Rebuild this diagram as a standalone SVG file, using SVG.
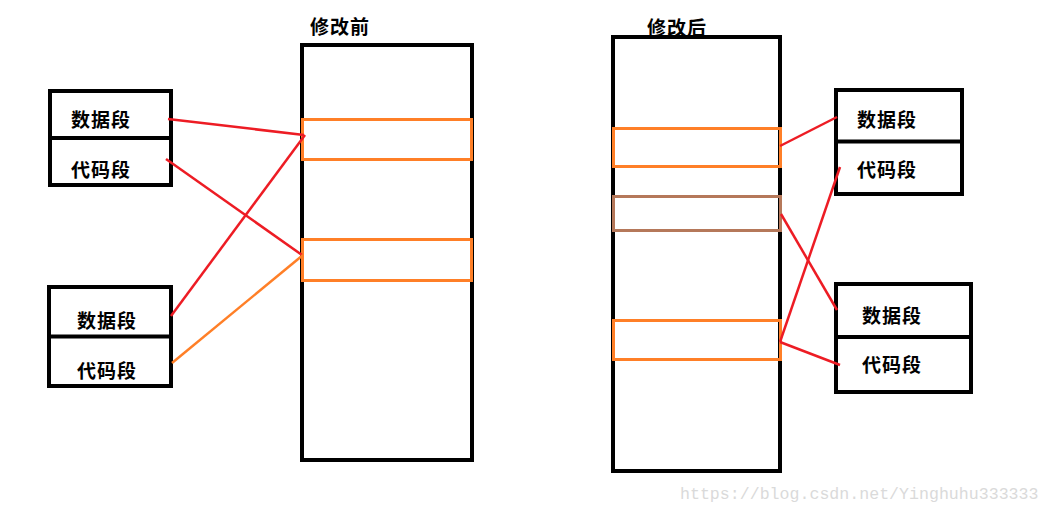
<svg xmlns="http://www.w3.org/2000/svg" width="1051" height="515" viewBox="0 0 1051 515">
<style>
.box{fill:none;stroke:#000;stroke-width:4}
.seg{fill:none;stroke:#FF7F27;stroke-width:3}
.brown{fill:none;stroke:#B5785A;stroke-width:3}
.lbl{font-family:"Noto Sans CJK SC","Noto Sans CJK JP",sans-serif;font-size:19px;font-weight:bold;fill:#000;letter-spacing:1px}
.red{stroke:#ED1C24;stroke-width:2.5;fill:none}
.org{stroke:#FF7F27;stroke-width:2.5;fill:none}
.wm{font-family:"Liberation Mono",monospace;font-size:16.6px;fill:#DADADA}
</style>
<rect width="1051" height="515" fill="#fff"/>
<g id="mem-before">
<rect class="box" x="302" y="45" width="170" height="415"/>
<rect class="seg" x="302.5" y="119.5" width="169" height="40"/>
<rect class="seg" x="302.5" y="239.5" width="169" height="41"/>
<text class="lbl" x="310" y="34">修改前</text>
</g>
<g id="mem-after">
<rect class="box" x="613" y="37" width="167" height="434"/>
<rect class="seg" x="613.5" y="128.5" width="167" height="38"/>
<rect class="brown" x="613.5" y="196.5" width="167" height="34"/>
<rect class="seg" x="613.5" y="320.5" width="167" height="39"/>
<text class="lbl" x="647" y="35">修改后</text>
</g>
<g id="prog-left-1">
<rect class="box" x="50" y="91" width="121" height="94"/>
<line x1="50" y1="138" x2="171" y2="138" stroke="#000" stroke-width="4"/>
<text class="lbl" x="71" y="127">数据段</text>
<text class="lbl" x="71" y="177">代码段</text>
</g>
<g id="prog-left-2">
<rect class="box" x="49" y="287" width="122" height="99"/>
<line x1="49" y1="336.5" x2="171" y2="336.5" stroke="#000" stroke-width="4"/>
<text class="lbl" x="77" y="328">数据段</text>
<text class="lbl" x="77" y="378">代码段</text>
</g>
<g id="prog-right-1">
<rect class="box" x="836" y="90" width="126" height="104"/>
<line x1="836" y1="141.5" x2="962" y2="141.5" stroke="#000" stroke-width="4"/>
<text class="lbl" x="857" y="127">数据段</text>
<text class="lbl" x="857" y="177">代码段</text>
</g>
<g id="prog-right-2">
<rect class="box" x="836" y="284" width="135" height="108"/>
<line x1="836" y1="337" x2="971" y2="337" stroke="#000" stroke-width="4"/>
<text class="lbl" x="862" y="323">数据段</text>
<text class="lbl" x="862" y="372">代码段</text>
</g>
<g id="connectors">
<line class="red" x1="168" y1="119" x2="304" y2="135"/>
<line class="red" x1="166" y1="159" x2="302" y2="255"/>
<line class="red" x1="171" y1="316" x2="305" y2="135"/>
<line class="org" x1="172" y1="363" x2="303" y2="255"/>
<line class="red" x1="780" y1="146" x2="837" y2="117"/>
<line class="red" x1="781" y1="214" x2="837" y2="310"/>
<line class="red" x1="840" y1="167" x2="780" y2="342"/>
<line class="red" x1="780" y1="342" x2="840" y2="365"/>
</g>
<text class="wm" x="680" y="499">https://blog.csdn.net/Yinghuhu333333</text>
</svg>
